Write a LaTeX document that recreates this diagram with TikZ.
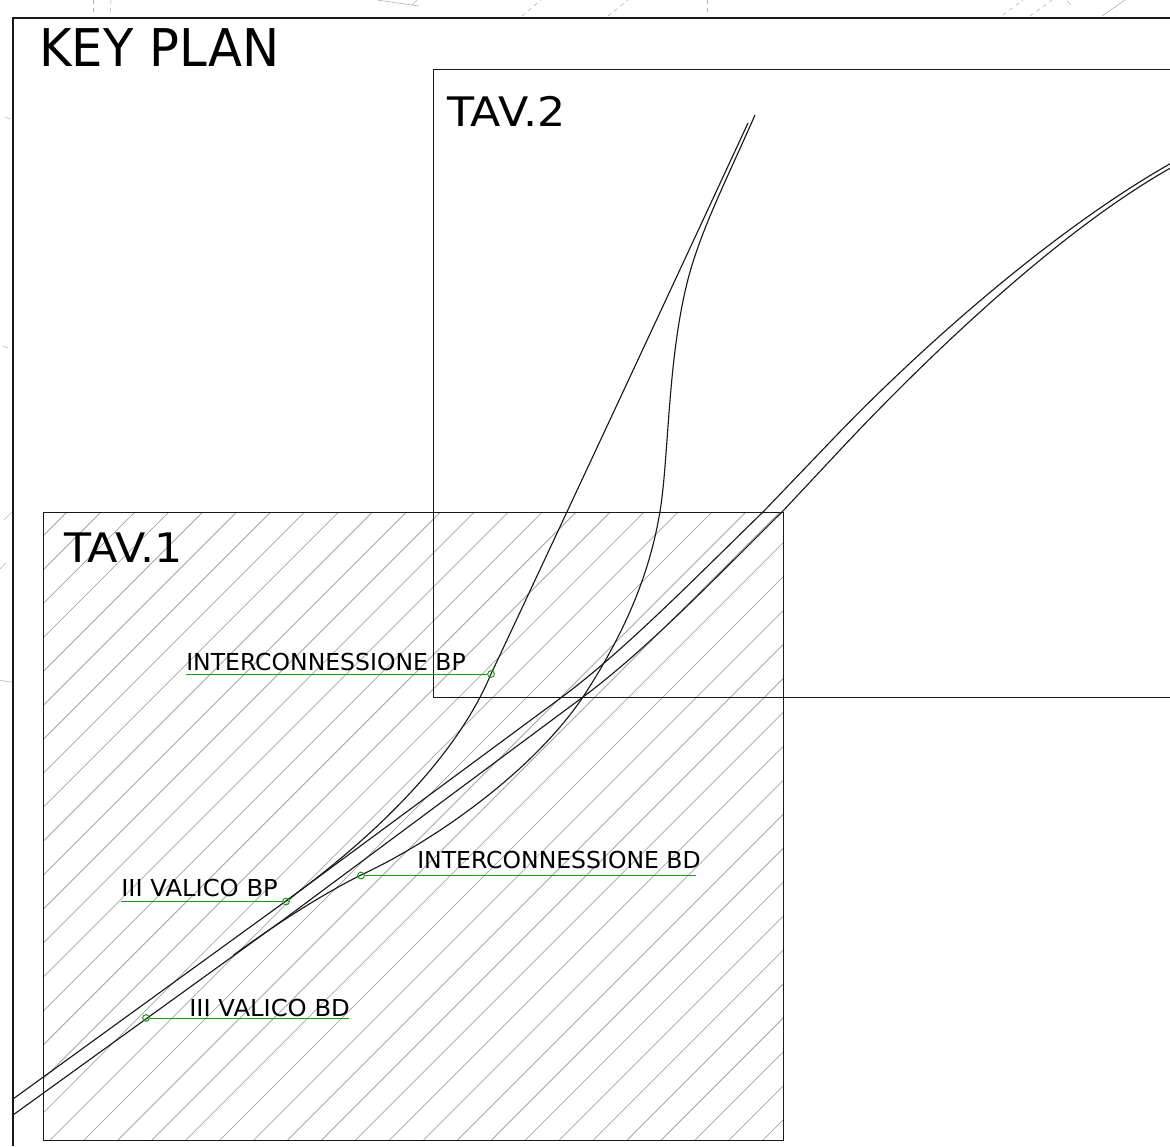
\documentclass[tikz,border=0pt]{standalone}
\usepackage{fontspec}
\newfontfamily\bigfont[FakeStretch=0.955]{DejaVu Sans}
\newfontfamily\midfont[FakeStretch=1.09]{DejaVu Sans}
\newfontfamily\smallfont[FakeStretch=1.008]{DejaVu Sans}
\newfontfamily\shortfont[FakeStretch=1.04]{DejaVu Sans}
\definecolor{leadgreen}{rgb}{0.1,0.62,0.1}
\tikzset{
  frame/.style={draw=black!90,line width=1pt},
  subframe/.style={draw=black!90,line width=0.75pt},
  hatch/.style={draw=black!35,line width=0.6pt},
  track/.style={draw=black!90,line width=0.85pt},
  leader/.style={draw=leadgreen,line width=0.75pt},
  pin/.style={circle,draw=leadgreen,line width=0.75pt,minimum size=5pt,inner sep=0pt},
  faint/.style={draw=black!30,line width=0.45pt},
  big/.style={font=\bigfont\fontsize{39}{39}\selectfont,anchor=base west,inner sep=0pt,text=black},
  mid/.style={font=\midfont\fontsize{30.5}{32}\selectfont,anchor=base west,inner sep=0pt,text=black},
  small/.style={font=\smallfont\fontsize{17.5}{18}\selectfont,anchor=base west,inner sep=0pt,text=black},
  short/.style={font=\shortfont\fontsize{17.5}{18}\selectfont,anchor=base west,inner sep=0pt,text=black}
}
\begin{document}
\begin{tikzpicture}[x=0.75pt,y=-0.75pt]
\useasboundingbox (0,0) rectangle (1170,1146);
% faint background marks
\draw[faint,dashed] (93,0) -- (93,16);
\draw[faint,dashed] (111,0) -- (110,16);
\draw[faint] (377,0) -- (419,6);
\draw[faint] (412,5) -- (417,0);
\draw[faint,dashed] (522,16) -- (541,0);
\draw[faint,dashed] (608,16) -- (628,0);
\draw[faint,dashed] (707,0) -- (707,13);
\draw[faint,dashed] (1003,15) -- (1023,0);
\draw[faint,dashed] (1030,16) -- (1052,0);
\draw[faint] (1067,1) -- (1071,5);
\draw[faint] (1102,16) -- (1125,0);
\draw[faint] (5,117) -- (10,119);
\draw[faint] (3,346) -- (8,348);
\draw[faint] (4,520) -- (12,512);
\draw[faint] (0,569) -- (6,563);
\draw[faint] (0,680) .. controls (4,681) and (8,682) .. (12,682);
% hatch
\begin{scope}
\clip (43,512) rectangle (783,1140);
\foreach \k in {-1,...,41}{
  \pgfmathsetmacro{\c}{579+33.95*\k}
  \draw[hatch] (\c-1200,1200) -- (\c,0);
}
\end{scope}
% frames
\clip (0,0) rectangle (1170,1146);
\draw[frame] (1175,18) -- (13,18) -- (13,1146);
\draw[subframe] (1175,69.5) -- (433.5,69.5) -- (433.5,697.5) -- (1175,697.5);
\draw[subframe] (43,512) rectangle (783,1140);
% tracks
\draw[track] (13,1099) -- (286,901) -- (562,697)
  .. controls (625,650) and (695,578) .. (763,512) -- (832,440)
  .. controls (920,348) and (1055,228) .. (1175,161);
\draw[track] (13,1115) -- (283,920) -- (583,697)
  .. controls (650,647) and (720,573) .. (782,512) -- (840,450)
  .. controls (930,354) and (1062,228) .. (1175,165.5);
\draw[track] (286,901) .. controls (370,840) and (455,760) .. (491,674)
  .. controls (540,570) and (680,270) .. (748,123);
\draw[track] (233,955.5) .. controls (280,921) and (325,893) .. (361,875)
  .. controls (430,843) and (530,775) .. (583,697)
  .. controls (630,625) and (652,565) .. (661,505)
  .. controls (670,440) and (668,330) .. (697,250)
  .. controls (710,212) and (733,165) .. (755,115);
% labels
\node[big] (keyplan) at (39,66.5) {KEY PLAN};
\node[mid] (tavtwo) at (447,126) {TAV.2};
\node[mid] (tavone) at (64,562.5) {TAV.1};
\node[small] (ibp) at (186,670) {INTERCONNESSIONE BP};
\node[small] (ibd) at (417,868) {INTERCONNESSIONE BD};
\node[short] (vbp) at (121,896.5) {III VALICO BP};
\node[short] (vbd) at (189,1016) {III VALICO BD};
% pins and leaders
\node[pin] (pibp) at (491,674) {};
\node[pin] (pibd) at (361,875.5) {};
\node[pin] (pvbp) at (286,901.5) {};
\node[pin] (pvbd) at (146,1018) {};
\coordinate (eibp) at (186,674);
\coordinate (eibd) at (696,875.5);
\coordinate (evbp) at (121,901.5);
\coordinate (evbd) at (349,1018);
\draw[leader] (pibp) -- (eibp);
\draw[leader] (pibd) -- (eibd);
\draw[leader] (pvbp) -- (evbp);
\draw[leader] (pvbd) -- (evbd);
\end{tikzpicture}
\end{document}
